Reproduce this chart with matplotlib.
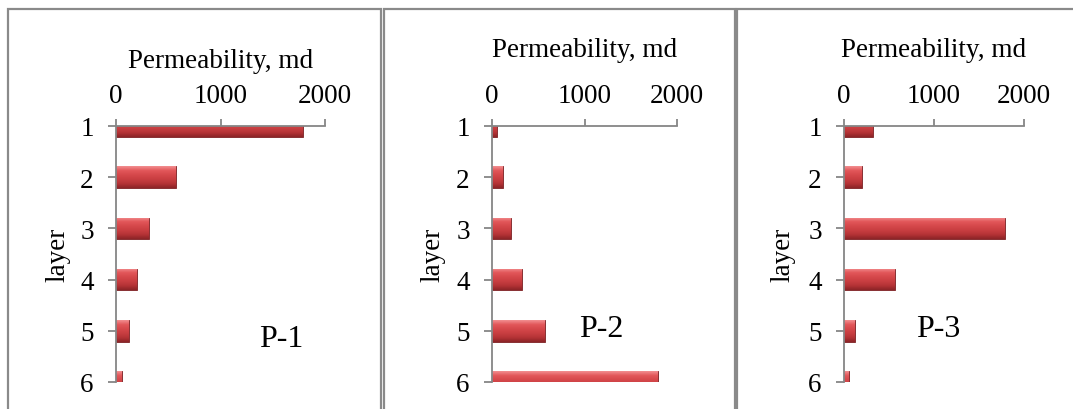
import numpy as np
import matplotlib
matplotlib.use('Agg')
import matplotlib.pyplot as plt
from matplotlib.patches import Rectangle
from matplotlib.colors import LinearSegmentedColormap

# permeability (md) per layer for each well
layers = [1, 2, 3, 4, 5, 6]
p1_perm = [1790, 570, 320, 200, 120, 54]
p2_perm = [54, 120, 200, 320, 570, 1790]
p3_perm = [320, 200, 1790, 570, 120, 54]
wells = ['P-1', 'P-2', 'P-3']
x_ticks = [0, 1000, 2000]

plt.rcParams['font.family'] = 'Liberation Serif'

W, H = 1073, 410
fig = plt.figure(figsize=(W / 100, H / 100), dpi=100)


def frac(x0, y0, x1, y1):
    """pixel box (top-left origin) -> figure fraction rect"""
    return [x0 / W, 1 - y1 / H, (x1 - x0) / W, (y1 - y0) / H]


# panel frames
for x0, x1 in [(7.5, 380.5), (383.5, 735), (736.5, 1085)]:
    fig.add_artist(Rectangle((x0 / W, -0.05), (x1 - x0) / W, 1.05 - 9.5 / H,
                             transform=fig.transFigure, fill=False,
                             ec='#8a8a8a', lw=1.6))

axes_px = [(116, 127, 325, 383), (492, 127, 677, 383), (844, 127, 1024, 383)]
xlab_y = [1.232, 1.273, 1.273]
name_pos = [(0.789, 0.141), (0.589, 0.181), (0.522, 0.178)]
ylab_x = [-0.278, -0.319, -0.339]

bar_cmap = LinearSegmentedColormap.from_list(
    'bevel', ['#f28e90', '#e2575a', '#d6484b', '#c83e41', '#b53336', '#8c2427'])
grad = np.linspace(0, 1, 64).reshape(-1, 1)
grey = '#868686'
fs = 19.5

for i, vals in enumerate([p1_perm, p2_perm, p3_perm]):
    ax = fig.add_axes(frac(*axes_px[i]))
    bars = ax.barh(layers, vals, height=0.42, color='#c0393c',
                   edgecolor='#7a1f22', lw=0.6, zorder=2)
    for b in bars:
        x, y, w, h = b.get_x(), b.get_y(), b.get_width(), b.get_height()
        im = ax.imshow(grad, cmap=bar_cmap, aspect='auto', origin='upper',
                       extent=(x, x + w, y + h, y), zorder=2.5)
        # clip to the bar shape but keep the axes clip box
        im.set_clip_path(b.get_path(), b.get_transform())

    ax.set_xlim(0, 2000)
    ax.set_ylim(6, 1)
    ax.set_xticks(x_ticks)
    ax.set_yticks(layers)
    ax.xaxis.tick_top()
    ax.xaxis.set_label_position('top')

    for s in ['right', 'bottom']:
        ax.spines[s].set_visible(False)
    for s in ['left', 'top']:
        ax.spines[s].set_color(grey)
        ax.spines[s].set_linewidth(1.3)
        ax.spines[s].set_zorder(3)

    ax.tick_params(axis='x', direction='out', length=5, width=1.3,
                   color=grey, pad=8, labelsize=fs)
    ax.tick_params(axis='y', direction='out', length=6, width=1.3,
                   color=grey, pad=10, labelsize=fs)

    ax.set_xlabel('Permeability, md', fontsize=fs, va='baseline')
    ax.xaxis.set_label_coords(0.5, xlab_y[i])
    ax.text(ylab_x[i], 0.5, 'layer', rotation=90, ha='center', va='center',
            fontsize=fs, transform=ax.transAxes)
    ax.text(name_pos[i][0], name_pos[i][1], wells[i], ha='center',
            va='baseline', fontsize=23, transform=ax.transAxes)
    ax.patch.set_alpha(0)

fig.savefig('out.png', dpi=100)
